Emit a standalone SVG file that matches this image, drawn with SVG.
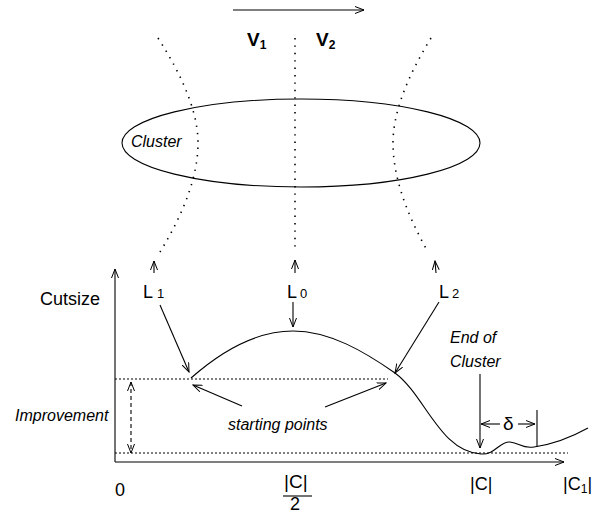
<svg xmlns="http://www.w3.org/2000/svg" width="600" height="513" viewBox="0 0 600 513">
<defs>
<marker id="ah" markerWidth="10" markerHeight="8" refX="9" refY="4" orient="auto-start-reverse" markerUnits="userSpaceOnUse">
<path d="M0,0.5 L9,4 L0,7.5" fill="none" stroke="#000" stroke-width="1"/>
</marker>
</defs>
<style>
.ln{fill:none;stroke:#000;stroke-width:1.1}
.dot{fill:none;stroke:#000;stroke-width:1.6;stroke-dasharray:1.4 6}
.hd{fill:none;stroke:#000;stroke-width:1;stroke-dasharray:2 2}
.t{font-family:"Liberation Sans",Arial,sans-serif;fill:#000}
.i{font-style:italic;font-size:16px}
</style>
<rect width="600" height="513" fill="#fff"/>
<g id="direction">
<line class="ln" x1="233" y1="10" x2="364" y2="10" marker-end="url(#ah)"/>
<text class="t" x="247" y="46" font-size="19" font-weight="bold">V<tspan font-size="12" dy="3">1</tspan></text>
<text class="t" x="316" y="46" font-size="19" font-weight="bold">V<tspan font-size="12" dy="3">2</tspan></text>
</g>
<g id="cluster">
<ellipse class="ln" cx="301" cy="143" rx="179" ry="44"/>
<text class="t i" x="131" y="147">Cluster</text>
</g>
<g id="cutlines">
<path class="dot" d="M158,38 Q198,100 198,143 Q198,190 160,252"/>
<path class="dot" d="M295,38 V252"/>
<path class="dot" d="M431,38 Q393,100 393,143 Q393,190 428,252"/>
</g>
<g id="labels-L">
<text class="t" x="143" y="298" font-size="18">L</text><text class="t" x="157" y="298" font-size="13">1</text>
<text class="t" x="287" y="298" font-size="18">L</text><text class="t" x="300" y="298" font-size="13">0</text>
<text class="t" x="439" y="298" font-size="18">L</text><text class="t" x="452" y="298" font-size="13">2</text>
</g>
<g id="axes">
<line class="ln" x1="115" y1="462" x2="115" y2="269" marker-end="url(#ah)"/>
<line class="ln" x1="115" y1="462" x2="564" y2="462" marker-end="url(#ah)"/>
<text class="t" x="40" y="305" font-size="18">Cutsize</text>
<text class="t" x="115" y="496" font-size="18">0</text>
<text class="t" x="284" y="488" font-size="19">|C|</text>
<line class="ln" x1="283" y1="496" x2="312" y2="496"/>
<text class="t" x="290" y="510" font-size="18">2</text>
<text class="t" x="470" y="490" font-size="18">|C|</text>
<text class="t" x="563" y="490" font-size="18">|C<tspan font-size="12" dy="3">1</tspan><tspan dy="-3">|</tspan></text>
</g>
<g id="levels">
<line class="hd" x1="115" y1="379" x2="388" y2="379"/>
<line class="hd" x1="115" y1="453" x2="568" y2="453"/>
<line class="ln" x1="131" y1="382" x2="131" y2="453" stroke-dasharray="4 3" marker-start="url(#ah)" marker-end="url(#ah)"/>
<text class="t i" x="15" y="421">Improvement</text>
</g>
<g id="curve">
<path class="ln" d="M191,378 C225,348 258,331 293,331 C330,331 365,352 395,373 C425,395 440,452 481,454 C495,455 500,441 510,442 C520,443 522,449 534,447 C555,444 570,438 588,428"/>
</g>
<g id="connectors">
<line class="ln" x1="154" y1="273" x2="154" y2="261" marker-end="url(#ah)"/>
<line class="ln" x1="295" y1="273" x2="295" y2="260" marker-end="url(#ah)"/>
<line class="ln" x1="436" y1="273" x2="435" y2="261" marker-end="url(#ah)"/>
<line class="ln" x1="160" y1="305" x2="189" y2="372" marker-end="url(#ah)"/>
<line class="ln" x1="293" y1="302" x2="293" y2="327" marker-end="url(#ah)"/>
<line class="ln" x1="439" y1="302" x2="395" y2="373" marker-end="url(#ah)"/>
<line class="ln" x1="242" y1="406" x2="193" y2="385" marker-end="url(#ah)"/>
<line class="ln" x1="325" y1="407" x2="386" y2="383" marker-end="url(#ah)"/>
<line class="ln" x1="480" y1="374" x2="480" y2="448" marker-end="url(#ah)"/>
<line class="ln" x1="500" y1="424" x2="481" y2="424" marker-end="url(#ah)"/>
<line class="ln" x1="518" y1="424" x2="535" y2="424" marker-end="url(#ah)"/>
<line class="ln" x1="537" y1="410" x2="537" y2="447"/>
</g>
<g id="annotations">
<text class="t i" x="228" y="430">starting points</text>
<text class="t i" x="450" y="343">End of</text>
<text class="t i" x="450" y="367">Cluster</text>
<text class="t" x="503" y="430" font-size="19">δ</text>
</g>
</svg>
